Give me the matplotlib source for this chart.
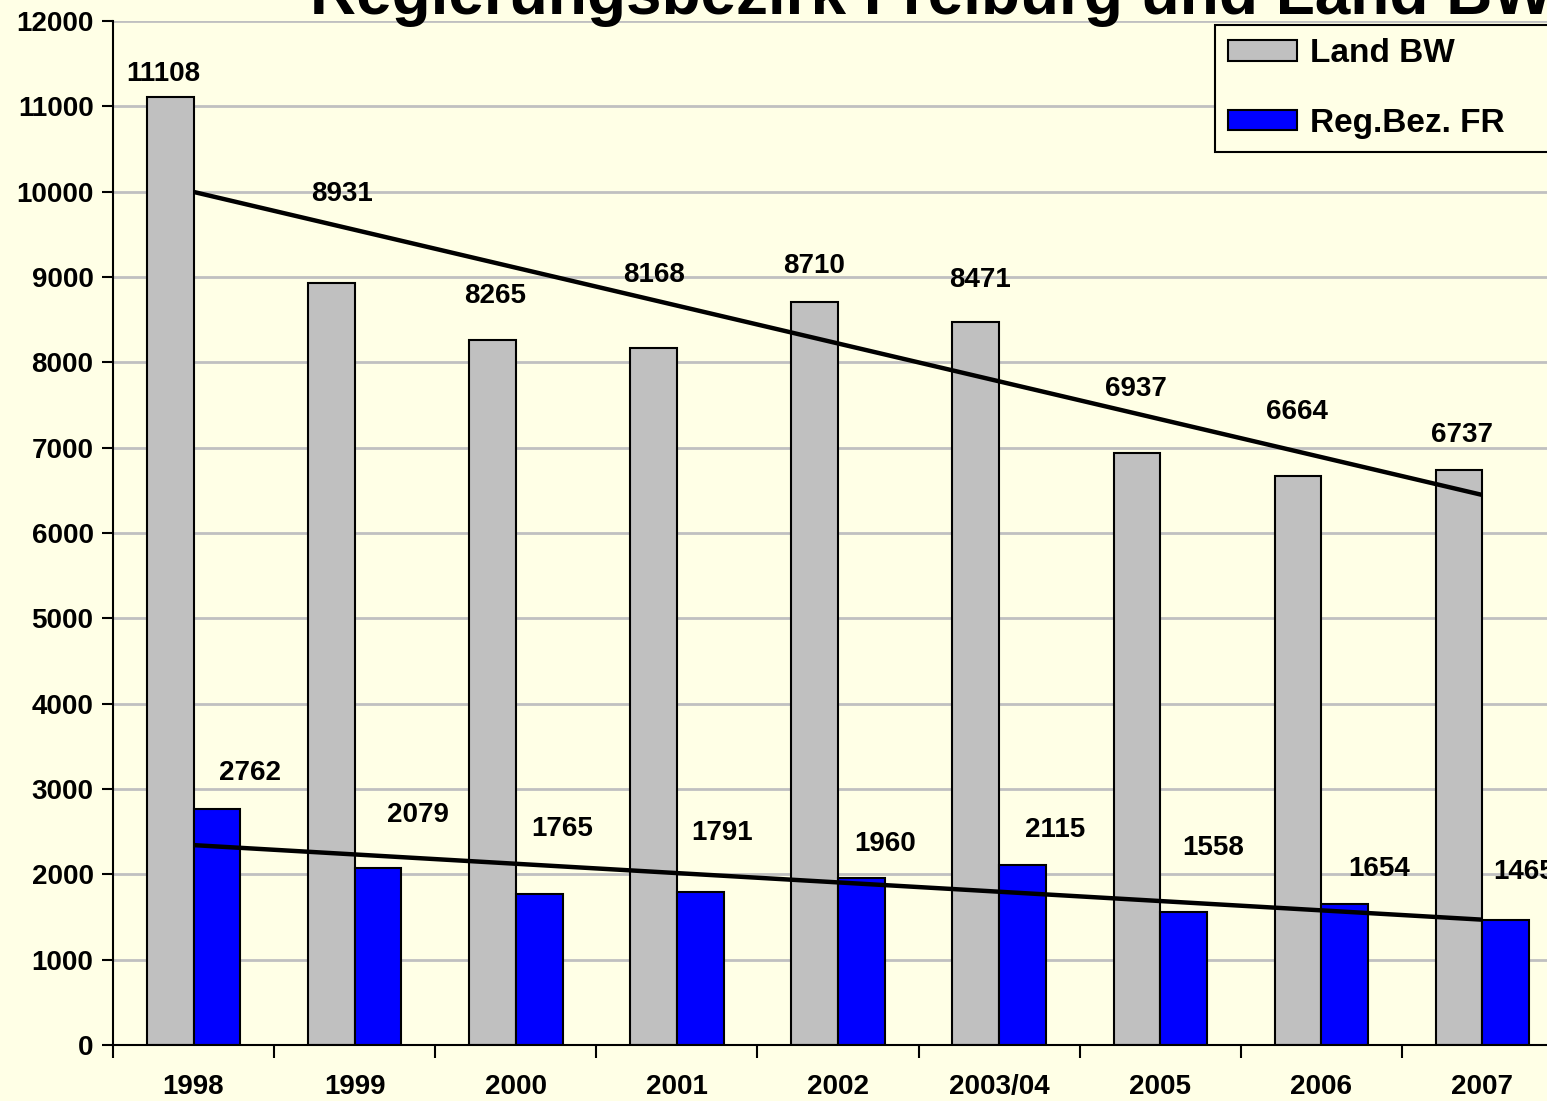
import numpy as np
import matplotlib
matplotlib.use("Agg")
import matplotlib.pyplot as plt

plt.rcParams['font.family'] = ['Liberation Sans', 'DejaVu Sans']
plt.rcParams['font.weight'] = 'bold'

# ---- data ----
categories = ["1998", "1999", "2000", "2001", "2002", "2003/04", "2005", "2006", "2007"]
land_bw = [11108, 8931, 8265, 8168, 8710, 8471, 6937, 6664, 6737]
reg_bez_fr = [2762, 2079, 1765, 1791, 1960, 2115, 1558, 1654, 1465]
series_names = ["Land BW", "Reg.Bez. FR"]
title = "Regierungsbezirk Freiburg und Land BW"
yticks = list(range(0, 12001, 1000))

# ---- label layout (manually placed labels as in original) ----
land_lbl_dx = [-0.19, -0.08, -0.13, -0.14, -0.15, -0.12, -0.15, -0.15, -0.13]
land_lbl_y = [11379, 9973, 8778, 9024, 9129, 8965, 7688, 7418, 7149]
reg_lbl_dx = [0.35, 0.39, 0.29, 0.28, 0.29, 0.35, 0.33, 0.36, 0.26]
reg_lbl_y = [3188, 2695, 2531, 2484, 2356, 2520, 2309, 2063, 2027]

bg = "#FFFFE6"
W, H = 1547, 1101
fig = plt.figure(figsize=(W / 100, H / 100), dpi=100, facecolor=bg)
ax = fig.add_axes([113 / W, 1 - 1045 / H, 1450 / W, (1045 - 21) / H], facecolor=bg)

x = np.arange(len(categories))
bw = 0.29
ax.bar(x - bw / 2, land_bw, width=bw, color="#C0C0C0", edgecolor="black", linewidth=1.5,
       label=series_names[0], zorder=2)
ax.bar(x + bw / 2, reg_bez_fr, width=bw, color="#0000FF", edgecolor="black", linewidth=1.5,
       label=series_names[1], zorder=2)

# linear trend lines
for vals in (land_bw, reg_bez_fr):
    k, d = np.polyfit(x, vals, 1)
    ax.plot(x, k * x + d, color="black", linewidth=3.2, zorder=3, solid_capstyle='butt')

for i in range(len(categories)):
    ax.text(i + land_lbl_dx[i], land_lbl_y[i], str(land_bw[i]), ha="center", va="center",
            fontsize=20, fontweight="bold", zorder=4)
    ax.text(i + reg_lbl_dx[i], reg_lbl_y[i], str(reg_bez_fr[i]), ha="center", va="center",
            fontsize=20, fontweight="bold", zorder=4, clip_on=False)

ax.set_xlim(-0.5, len(categories) - 0.5)
ax.set_ylim(0, 12000)
ax.set_yticks(yticks)
ax.set_yticklabels([str(v) for v in yticks], fontsize=20, fontweight="bold")
ax.yaxis.grid(True, color="#C0C0C0", linewidth=2, zorder=0)
ax.set_axisbelow(True)

ax.set_xticks(x)
ax.set_xticklabels(categories, fontsize=20, fontweight="bold")
ax.set_xticks(np.arange(-0.5, len(categories), 1), minor=True)
ax.tick_params(axis="x", which="major", length=0, pad=21)
ax.tick_params(axis="x", which="minor", length=9, width=1.5, direction="out")
ax.tick_params(axis="y", length=8, width=1.5, direction="out", pad=6)

for s in ("top", "right"):
    ax.spines[s].set_visible(False)
for s in ("left", "bottom"):
    ax.spines[s].set_linewidth(1.5)

leg = ax.legend(loc="upper left", bbox_to_anchor=(1215 / W, 1 - 143 / H, 420 / W, 118 / H),
                bbox_transform=fig.transFigure, mode="expand",
                prop={"size": 24, "weight": "bold"}, frameon=True, fancybox=False,
                edgecolor="black", facecolor=bg, framealpha=1, borderpad=0.4, borderaxespad=0,
                labelspacing=1.15, handlelength=2.05, handleheight=0.55, handletextpad=0.4)
leg.get_frame().set_linewidth(1.5)
leg.set_zorder(5)

fig.text(310 / W, 1 - 14 / H, title, ha="left", va="baseline", fontsize=46, fontweight="bold")

fig.savefig("out.png", dpi=100, facecolor=bg)
